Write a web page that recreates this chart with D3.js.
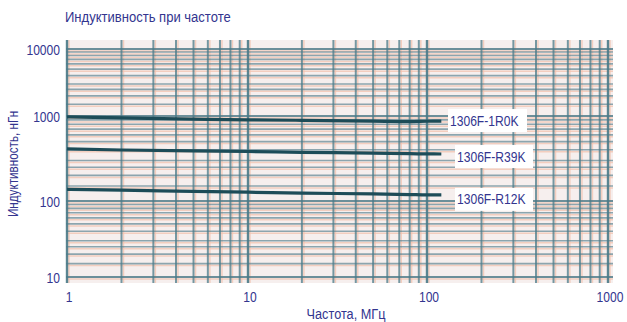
<!DOCTYPE html>
<html><head><meta charset="utf-8">
<script src="https://cdn.jsdelivr.net/npm/d3@7"></script>
<style>
body{margin:0;background:#fff;}
text{font-family:"Liberation Sans",Arial,sans-serif;fill:#33358f;}
</style></head>
<body>
<svg id="c" width="627" height="322"></svg>
<script>
// ---- data ----
const xTickLabels = [1, 10, 100, 1000];
const yTickLabels = [10, 100, 1000, 10000];
const freq = [1, 2, 5, 10, 20, 50, 80, 100, 120];
const s1R0K = [975, 950, 920, 900, 890, 870, 860, 868, 872];
const sR39K = [410, 398, 388, 382, 374, 366, 360, 358, 357];
const sR12K = [137, 134, 130, 127, 124, 121, 119, 118, 118];
const seriesNames = ["1306F-1R0K", "1306F-R39K", "1306F-R12K"];
const xMinor = [1, 2, 3, 4, 5, 6, 7, 8, 9];
const yMinor = [1, 1.5, 2, 2.5, 3, 4, 5, 6, 7, 8, 9];

const svg = d3.select("#c");
const x = d3.scaleLog().domain([1, 10, 100, 1000]).range([67, 248, 427, 608]);
const y = d3.scaleLog().domain([10, 100, 1000, 10000]).range([277, 201, 116, 49]);
const L = 66, R = 613, T = 40, B = 283;

function txt(px, py, s, size, anchor, rot, sx) {
  return svg.append("text")
    .attr("transform", `translate(${px},${py})` + (rot ? ` rotate(${rot})` : "") + ` scale(${sx || 0.78},1)`)
    .attr("text-anchor", anchor || "start").attr("font-size", size).text(s);
}

svg.append("rect").attr("x", L).attr("y", T).attr("width", R - L).attr("height", B - T).attr("fill", "#f6efee");

const xLines = [];
[1, 10, 100].forEach(d => xMinor.forEach(m => xLines.push(d * m)));
xLines.push(1000);
const yLines = [];
[10, 100, 1000].forEach(d => yMinor.forEach(m => yLines.push(d * m)));
yLines.push(10000);

const g = svg.append("g");
g.selectAll(".hp").data(yLines).join("line")
  .attr("x1", L).attr("x2", R).attr("y1", d => y(d) + 2).attr("y2", d => y(d) + 2)
  .attr("stroke", "#f2c3b0").attr("stroke-width", 1.5).attr("opacity", 0.75);
g.selectAll(".vp").data(xLines).join("line")
  .attr("y1", T).attr("y2", B).attr("x1", d => x(d) + 2).attr("x2", d => x(d) + 2)
  .attr("stroke", "#f2c3b0").attr("stroke-width", 1.5).attr("opacity", 0.75);
const isMaj = v => Math.abs(Math.log10(v) - Math.round(Math.log10(v))) < 1e-9;
g.selectAll(".h").data(yLines).join("line")
  .attr("x1", L).attr("x2", R).attr("y1", d => y(d)).attr("y2", d => y(d))
  .attr("stroke", "#557f8c").attr("stroke-width", d => isMaj(d) ? 2 : 1.6)
  .attr("opacity", d => isMaj(d) ? 0.85 : 0.65);
g.selectAll(".v").data(xLines).join("line")
  .attr("y1", T).attr("y2", B).attr("x1", d => x(d)).attr("x2", d => x(d))
  .attr("stroke", "#4a7a88").attr("stroke-width", d => isMaj(d) ? 2.4 : 2)
  .attr("opacity", d => isMaj(d) ? 0.9 : 0.75);

const line = d3.line().x((d, i) => x(freq[i])).y(d => y(d)).curve(d3.curveMonotoneX);
[s1R0K, sR39K, sR12K].forEach(s => {
  svg.append("path").datum(s).attr("d", line).attr("fill", "none")
    .attr("stroke", "#1d4c58").attr("stroke-width", 3.2);
});

const labelPos = [{x: 448, w: 79, dy: -1}, {x: 455, w: 78, dy: 2}, {x: 455, w: 78, dy: 4}];
[s1R0K, sR39K, sR12K].forEach((s, i) => {
  const cy = y(s[s.length - 1]) + labelPos[i].dy;
  svg.append("rect").attr("x", labelPos[i].x).attr("y", cy - 11).attr("width", labelPos[i].w).attr("height", 23).attr("fill", "#fff");
  txt(labelPos[i].x + 2, cy + 5.5, seriesNames[i], 15.5);
});

xTickLabels.forEach(d => txt(x(d) + 2, 302, d, 15.5, "middle"));
yTickLabels.forEach(d => txt(60, y(d) + 5.5, d, 15.5, "end"));

txt(65, 22, "Индуктивность при частоте", 14.5, "start", 0, 0.9);
txt(18, 164, "Индуктивность, нГн", 15, "middle", -90);
txt(346, 319, "Частота, МГц", 15.5, "middle", 0, 0.82);
</script>
</body></html>
